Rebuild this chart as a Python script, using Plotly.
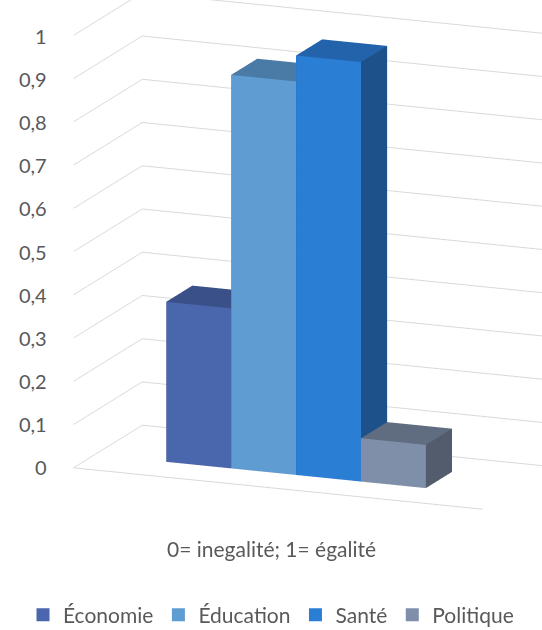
import math
import plotly.graph_objects as go

# Gender-gap sub-indices (0 = inequality, 1 = equality)
categories = ["Économie", "Éducation", "Santé", "Politique"]
values = [0.37, 0.91, 0.97, 0.10]

# value-axis ticks (French decimal comma)
tick_values = [0, 0.1, 0.2, 0.3, 0.4, 0.5, 0.6, 0.7, 0.8, 0.9, 1]
tick_labels = ["0", "0,1", "0,2", "0,3", "0,4", "0,5", "0,6", "0,7", "0,8", "0,9", "1"]

axis_title = "0= inegalité; 1= égalité"

# face shades per series: front, top, side
front_colors = ["#4A66AC", "#5F9CD2", "#2A7FD5", "#7F8FA9"]
top_colors = ["#3A5088", "#4A7BA6", "#2263AB", "#606D81"]
side_colors = ["#34477A", "#41698F", "#1D5189", "#525C6D"]

BAR_DEPTH = (0.31, 0.69)   # position of the bars inside the depth axis
GRID = "#D9D9D9"
TEXT = "#595959"
FONT = "Lato"

fig = go.Figure()

for i, (name, v) in enumerate(zip(categories, values)):
    x0, x1 = i - 0.5, i + 0.5
    y0, y1 = BAR_DEPTH
    z0, z1 = 0.0, v
    xs = [x0, x1, x1, x0, x0, x1, x1, x0]
    ys = [y0, y0, y1, y1, y0, y0, y1, y1]
    zs = [z0, z0, z0, z0, z1, z1, z1, z1]
    tri = [
        (0, 1, 5), (0, 5, 4),   # front
        (3, 2, 6), (3, 6, 7),   # back
        (0, 3, 7), (0, 7, 4),   # left
        (1, 2, 6), (1, 6, 5),   # right
        (0, 1, 2), (0, 2, 3),   # bottom
        (4, 5, 6), (4, 6, 7),   # top
    ]
    fc = ([front_colors[i]] * 2 + [side_colors[i]] * 8 + [top_colors[i]] * 2)
    fig.add_trace(go.Mesh3d(
        x=xs, y=ys, z=zs,
        i=[t[0] for t in tri], j=[t[1] for t in tri], k=[t[2] for t in tri],
        facecolor=fc, flatshading=True,
        lighting=dict(ambient=1, diffuse=0, specular=0, roughness=1, fresnel=0),
        hoverinfo="skip", showlegend=False, name=name,
    ))

# legend entries
for name, c in zip(categories, front_colors):
    fig.add_trace(go.Scatter(
        x=[None], y=[None], mode="markers", name=name,
        marker=dict(symbol="square", size=13, color=c),
        showlegend=True, hoverinfo="skip",
    ))

# camera: orthographic view from front-right, slightly above
a = math.radians(22)
e = math.radians(14.5)
dist = 2.0
view = (math.sin(a) * math.cos(e), -math.cos(a) * math.cos(e), math.sin(e))
right = (math.cos(a), math.sin(a), 0.0)
up = (-math.sin(a) * math.sin(e), math.cos(a) * math.sin(e), math.cos(e))
sx, sy = 0.151, 0.084
center = [-(sx * r + sy * u) for r, u in zip(right, up)]
eye = [c + dist * d for c, d in zip(center, view)]

hidden_axis = dict(showgrid=False, zeroline=False, showticklabels=False, ticks="",
                   title=dict(text=""), showbackground=False, showspikes=False)

fig.update_layout(
    width=542, height=630,
    margin=dict(l=0, r=0, t=0, b=0, autoexpand=False),
    paper_bgcolor="white", plot_bgcolor="rgba(0,0,0,0)",
    font=dict(family=FONT, color=TEXT),
    xaxis=dict(visible=False, domain=[0.088, 1], range=[0, 1]),
    # value labels down the left side, sharing the 0..1 scale of the bars
    yaxis=dict(domain=[1 - 468 / 630, 1 - 37 / 630], range=[0, 1],
               tickvals=tick_values, ticktext=tick_labels,
               showgrid=False, zeroline=False, showline=False, ticks="",
               tickfont=dict(size=20, color=TEXT, family=FONT)),
    scene=dict(
        domain=dict(x=[0, 1], y=[0.13, 1]),
        bgcolor="rgba(0,0,0,0)",
        xaxis=dict(range=[-1.6, 4.7], showline=True, linecolor=GRID, linewidth=2, **hidden_axis),
        yaxis=dict(range=[0, 1], showline=False, **hidden_axis),
        zaxis=dict(range=[0, 1], tickvals=tick_values, showticklabels=False,
                   showgrid=True, gridcolor=GRID, gridwidth=2, zeroline=False,
                   showline=False, ticks="", showbackground=False, showspikes=False,
                   title=dict(text="")),
        aspectmode="manual",
        aspectratio=dict(x=1.61, y=0.67, z=1.63),
        camera=dict(eye=dict(x=eye[0], y=eye[1], z=eye[2]),
                    center=dict(x=center[0], y=center[1], z=center[2]),
                    up=dict(x=0, y=0, z=1),
                    projection=dict(type="orthographic")),
    ),
    legend=dict(orientation="h", x=0.5, xanchor="center",
                yref="container", y=1 - 615 / 630, yanchor="middle",
                itemwidth=30,
                font=dict(size=21, color=TEXT, family=FONT), bgcolor="rgba(0,0,0,0)"),
    annotations=[dict(text=axis_title, x=0.5, y=1 - 548 / 630, xref="paper", yref="paper",
                      yanchor="middle", showarrow=False,
                      font=dict(size=21, color=TEXT, family=FONT))],
)

fig.write_html("out.html")
